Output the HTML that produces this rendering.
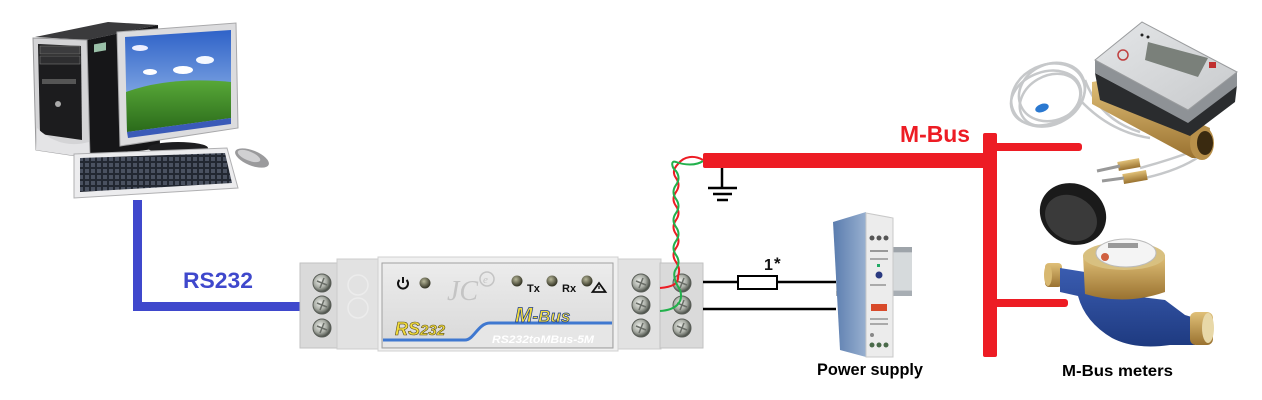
<!DOCTYPE html>
<html><head><meta charset="utf-8"><style>
html,body{margin:0;padding:0;background:#fff;}
svg{display:block;}
</style></head><body>
<svg width="1262" height="400" viewBox="0 0 1262 400" xmlns="http://www.w3.org/2000/svg" font-family="Liberation Sans, sans-serif">
<defs>
<radialGradient id="scr" cx="0.4" cy="0.4" r="0.6">
<stop offset="0" stop-color="#eef0ec"/><stop offset="0.6" stop-color="#a8aca4"/><stop offset="1" stop-color="#4a4f48"/>
</radialGradient>
<radialGradient id="led" cx="0.4" cy="0.35" r="0.6">
<stop offset="0" stop-color="#b8b89a"/><stop offset="1" stop-color="#3a3a2a"/>
</radialGradient>
<linearGradient id="face" x1="0" y1="0" x2="0" y2="1">
<stop offset="0" stop-color="#ececec"/><stop offset="1" stop-color="#d8d8d8"/>
</linearGradient>
<linearGradient id="sky" x1="0" y1="0" x2="0" y2="1">
<stop offset="0" stop-color="#2f62c8"/><stop offset="1" stop-color="#a8c8f0"/>
</linearGradient>
<linearGradient id="grass" x1="0" y1="0" x2="0" y2="1">
<stop offset="0" stop-color="#58a838"/><stop offset="1" stop-color="#2a6a1a"/>
</linearGradient>
<linearGradient id="brass" x1="0" y1="0" x2="0" y2="1">
<stop offset="0" stop-color="#e0c078"/><stop offset="1" stop-color="#9a7230"/>
</linearGradient>
<linearGradient id="psublue" x1="0" y1="0" x2="1" y2="0">
<stop offset="0" stop-color="#5a7cae"/><stop offset="1" stop-color="#98b0d0"/>
</linearGradient>
<linearGradient id="wblue" x1="0" y1="0" x2="0" y2="1">
<stop offset="0" stop-color="#3a5cb0"/><stop offset="1" stop-color="#1e3a80"/>
</linearGradient>
<linearGradient id="hface" x1="0" y1="0" x2="1" y2="1">
<stop offset="0" stop-color="#e4e6e8"/><stop offset="1" stop-color="#c8cacc"/>
</linearGradient>
<pattern id="keys" width="6" height="6" patternUnits="userSpaceOnUse">
<rect width="6" height="6" fill="#222731"/><rect x="1" y="1" width="4" height="4" fill="#4a5160"/>
</pattern>
<g id="screw">
<circle r="9" fill="url(#scr)" stroke="#5a5e58" stroke-width="1"/>
<path d="M-5,-2 L5,2 M-2,5 L2,-5" stroke="#6a6e68" stroke-width="1.5"/>
</g>
</defs>

<!-- ===== Computer ===== -->
<polygon points="35,37 108,22 158,25 87,40" fill="#3a3a3c"/>
<polygon points="87,40 158,25 160,148 90,158" fill="#161618"/>
<rect x="94" y="44" width="12" height="8" fill="#9ac0a8" transform="skewY(-10) translate(0,17)"/>
<polygon points="33,38 87,40 90,158 36,150" fill="#d4d4d6" stroke="#9a9a9c" stroke-width="1"/>
<polygon points="38,44 81,46 82,140 40,134" fill="#1c1c1e"/>
<rect x="40" y="46" width="40" height="8" fill="#3c3c3e" stroke="#777" stroke-width="0.6"/>
<rect x="40" y="56" width="40" height="8" fill="#2e2e30" stroke="#777" stroke-width="0.6"/>
<rect x="42" y="79" width="34" height="5" fill="#555"/>
<circle cx="58" cy="104" r="3" fill="#aaa"/>
<path d="M37,128 Q60,150 89,142 L90,158 L36,150 Z" fill="#e4e4e6"/>
<polygon points="117,32 236,23 238,128 120,146" fill="#dcdcde" stroke="#a8a8aa" stroke-width="1"/>
<polygon points="125,37 231,30 231,118 127,132" fill="url(#sky)"/>
<path d="M126,92 Q170,76 231,82 L231,118 L127,132 Z" fill="url(#grass)"/>
<ellipse cx="140" cy="48" rx="8" ry="3" fill="#eef"/>
<ellipse cx="183" cy="70" rx="10" ry="4" fill="#fff"/>
<ellipse cx="205" cy="60" rx="9" ry="4" fill="#f4f8ff"/>
<ellipse cx="150" cy="72" rx="7" ry="3" fill="#fff"/>
<polygon points="127,132 231,118 231,124 128,138" fill="#3a5ab8"/>
<ellipse cx="178" cy="148" rx="30" ry="6" fill="#1e1e20"/>
<polygon points="74,154 227,148 238,188 74,198" fill="#ececee" stroke="#b0b0b2" stroke-width="1"/>
<polygon points="80,158 225,153 232,183 80,192" fill="url(#keys)"/>
<ellipse cx="252" cy="158" rx="18" ry="7.5" fill="#9a9a9c" transform="rotate(22 252 158)"/>
<ellipse cx="249" cy="156" rx="12" ry="4.5" fill="#d0d0d2" transform="rotate(22 249 156)"/>

<!-- RS232 line -->
<path d="M137.5,200 L137.5,306.5 L300,306.5" fill="none" stroke="#3f48cc" stroke-width="9"/>
<text x="183" y="288" font-size="22" font-weight="bold" fill="#3f48cc" textLength="70" lengthAdjust="spacingAndGlyphs">RS232</text>

<!-- ===== Converter module ===== -->
<rect x="300" y="263" width="38" height="85" fill="#dadada" stroke="#c2c2c2"/>
<rect x="337" y="259" width="43" height="90" fill="#e2e2e2" stroke="#cccccc"/>
<circle cx="358" cy="285" r="10" fill="none" stroke="#ececec" stroke-width="1.5"/>
<circle cx="358" cy="308" r="10" fill="none" stroke="#ececec" stroke-width="1.5"/>
<rect x="618" y="259" width="43" height="90" fill="#e2e2e2" stroke="#cccccc"/>
<rect x="660" y="263" width="43" height="85" fill="#dadada" stroke="#c2c2c2"/>
<rect x="378" y="257" width="240" height="94" fill="#f0f0f0" stroke="#d0d0d0"/>
<rect x="382" y="263" width="231" height="85" fill="url(#face)" stroke="#a0a0a0" stroke-width="1"/>
<path d="M383,340 L465,340 C474,340 478,323 490,323 L612,323 L612,347 L383,347 Z" fill="#e6e6e6"/>
<path d="M383,340 L465,340 C474,340 478,323 490,323 L612,323" fill="none" stroke="#3f78d0" stroke-width="3"/>
<use href="#screw" x="322" y="283"/><use href="#screw" x="322" y="305"/><use href="#screw" x="322" y="328"/>
<use href="#screw" x="641" y="283"/><use href="#screw" x="641" y="305"/><use href="#screw" x="641" y="328"/>
<use href="#screw" x="682" y="283"/><use href="#screw" x="682" y="305"/><use href="#screw" x="682" y="328"/>
<path d="M399.5,280 A5,5 0 1 0 406.5,280" fill="none" stroke="#111" stroke-width="2"/>
<line x1="403" y1="277" x2="403" y2="283" stroke="#111" stroke-width="2"/>
<circle cx="425" cy="283" r="5.5" fill="url(#led)"/>
<text x="447" y="300" font-family="Liberation Serif, serif" font-style="italic" font-size="28" fill="#c4c4c4">JC</text>
<circle cx="487" cy="279" r="7" fill="none" stroke="#c4c4c4" stroke-width="1.5"/>
<text x="483" y="283" font-family="Liberation Serif, serif" font-style="italic" font-size="11" fill="#c4c4c4">e</text>
<circle cx="517" cy="281" r="5.5" fill="url(#led)"/>
<text x="527" y="292" font-size="11" font-weight="bold" fill="#111">Tx</text>
<circle cx="552" cy="281" r="5.5" fill="url(#led)"/>
<text x="562" y="292" font-size="11" font-weight="bold" fill="#111">Rx</text>
<circle cx="587" cy="281" r="5.5" fill="url(#led)"/>
<polygon points="599,283 605.5,292 592.5,292" fill="none" stroke="#111" stroke-width="1.8"/>
<line x1="599" y1="286" x2="599" y2="289" stroke="#111" stroke-width="1.3"/>
<text x="395" y="335" font-size="18" font-weight="bold" font-style="italic" fill="#f2dc3c" stroke="#5a5020" stroke-width="0.6">RS<tspan font-size="15">232</tspan></text>
<text x="515" y="322" font-size="21" font-weight="bold" font-style="italic" fill="#f2dc3c" stroke="#1e3c8c" stroke-width="0.7">M<tspan font-size="17">-Bus</tspan></text>
<text x="492" y="343" font-size="11" font-weight="bold" font-style="italic" fill="#ffffff" textLength="102" lengthAdjust="spacingAndGlyphs">RS232toMBus-5M</text>

<!-- twisted pair -->
<path d="M703,160 C694,155 684,156 678,164 Q671,171 676,178 T676,192 T676,206 T676,220 T676,234 T676,248 T676,262 T678,276 C679,284 672,287 660,288" fill="none" stroke="#ed1c24" stroke-width="2"/>
<path d="M703,161 C696,166 684,165 676,162 C670,160 672,168 676,171 Q681,178 676,185 T676,199 T676,213 T676,227 T676,241 T676,255 T676,269 T680,290 C684,302 676,310 660,311" fill="none" stroke="#22b14c" stroke-width="2"/>

<!-- ===== M-Bus bus ===== -->
<rect x="703" y="153" width="285" height="15" rx="2" fill="#ed1c24"/>
<rect x="983" y="133" width="14" height="224" rx="2" fill="#ed1c24"/>
<rect x="990" y="143" width="92" height="8" rx="3" fill="#ed1c24"/>
<rect x="990" y="299" width="78" height="8" rx="3" fill="#ed1c24"/>
<text x="900" y="142" font-size="23" font-weight="bold" fill="#ed1c24" textLength="70" lengthAdjust="spacingAndGlyphs">M-Bus</text>

<!-- ground -->
<line x1="722" y1="168" x2="722" y2="188" stroke="#000" stroke-width="2.5"/>
<line x1="708" y1="188" x2="737" y2="188" stroke="#000" stroke-width="2.5"/>
<line x1="713" y1="194" x2="732" y2="194" stroke="#000" stroke-width="2.5"/>
<line x1="717" y1="200" x2="728" y2="200" stroke="#000" stroke-width="2.5"/>

<!-- power wires + fuse -->
<line x1="703" y1="282" x2="836" y2="282" stroke="#000" stroke-width="2.5"/>
<line x1="703" y1="309" x2="836" y2="309" stroke="#000" stroke-width="2.5"/>
<rect x="738" y="276" width="39" height="13" fill="#fff" stroke="#000" stroke-width="2"/>
<text x="764" y="270" font-size="16" font-weight="bold" fill="#111">1</text>
<text x="774" y="269" font-size="17" font-weight="bold" fill="#111">*</text>

<!-- ===== Power supply ===== -->
<rect x="836" y="247" width="76" height="49" fill="#c4c8cc"/>
<rect x="836" y="247" width="76" height="5" fill="#9ea4aa"/>
<rect x="836" y="291" width="76" height="5" fill="#a8aeb4"/>
<rect x="893" y="253" width="19" height="37" fill="#d6dadc"/>
<polygon points="833,222 866,212 866,357 840,350" fill="url(#psublue)"/>
<polygon points="866,213 893,218 893,357 866,357" fill="#ececec" stroke="#c8c8c8" stroke-width="1"/>
<circle cx="872" cy="238" r="2.5" fill="#555"/><circle cx="879" cy="238" r="2.5" fill="#555"/><circle cx="886" cy="238" r="2.5" fill="#555"/>
<rect x="870" y="250" width="18" height="2" fill="#999"/>
<rect x="870" y="258" width="18" height="2" fill="#aaa"/>
<rect x="877" y="264" width="3" height="3" fill="#2a6"/>
<circle cx="879" cy="275" r="3.5" fill="#2a3a80"/>
<rect x="870" y="284" width="16" height="2" fill="#aaa"/>
<rect x="871" y="304" width="16" height="7" fill="#d84a2a"/>
<rect x="870" y="318" width="18" height="2" fill="#aaa"/>
<rect x="870" y="323" width="18" height="2" fill="#aaa"/>
<circle cx="872" cy="335" r="2" fill="#888"/>
<circle cx="872" cy="345" r="2.5" fill="#4a6a4a"/><circle cx="879" cy="345" r="2.5" fill="#4a6a4a"/><circle cx="886" cy="345" r="2.5" fill="#4a6a4a"/>
<text x="817" y="375" font-size="17" font-weight="bold" fill="#000" textLength="106" lengthAdjust="spacingAndGlyphs">Power supply</text>

<!-- ===== Heat meter ===== -->
<g fill="none" stroke="#c6c8ca" stroke-width="2.5">
<ellipse cx="1048" cy="95" rx="38" ry="30" transform="rotate(-25 1048 95)"/>
<ellipse cx="1052" cy="92" rx="34" ry="28" transform="rotate(-25 1052 92)"/>
<ellipse cx="1046" cy="98" rx="36" ry="26" transform="rotate(-20 1046 98)"/>
<ellipse cx="1050" cy="100" rx="32" ry="24" transform="rotate(-30 1050 100)"/>
<path d="M1085,80 Q1100,120 1140,132 M1080,100 Q1110,132 1150,138 M1140,168 Q1170,160 1196,150 M1145,178 Q1180,170 1200,156"/>
</g>
<ellipse cx="1042" cy="108" rx="7" ry="4" fill="#2a78d0" transform="rotate(-20 1042 108)"/>
<polygon points="1092,82 1104,80 1210,128 1207,158 1192,158 1092,104" fill="url(#brass)"/>
<ellipse cx="1202" cy="143" rx="12" ry="17" fill="#b8904a"/>
<ellipse cx="1205" cy="143" rx="8" ry="12" fill="#3a2a10"/>
<polygon points="1095,73 1188,122 1237,85 1235,102 1190,136 1100,100" fill="#2a2c2e"/>
<polygon points="1095,60 1188,110 1237,72 1237,86 1188,123 1095,73" fill="#8e9296"/>
<polygon points="1095,60 1142,22 1237,72 1188,110" fill="url(#hface)" stroke="#9a9c9e" stroke-width="1"/>
<polygon points="1148,42 1208,58 1198,77 1145,60" fill="#7a807a"/>
<circle cx="1123" cy="55" r="5" fill="none" stroke="#c04040" stroke-width="1.5"/>
<rect x="1209" y="62" width="7" height="6" fill="#c03030"/>
<circle cx="1142" cy="35" r="1.5" fill="#222"/><circle cx="1148" cy="37" r="1.5" fill="#222"/>
<rect x="1118" y="160" width="22" height="9" fill="url(#brass)" transform="rotate(-10 1129 165)"/>
<rect x="1123" y="172" width="24" height="10" fill="url(#brass)" transform="rotate(-10 1135 177)"/>
<line x1="1097" y1="171" x2="1120" y2="166" stroke="#999" stroke-width="3"/>
<line x1="1102" y1="181" x2="1124" y2="178" stroke="#999" stroke-width="3"/>

<!-- ===== Water meter ===== -->
<ellipse cx="1073" cy="214" rx="34" ry="30" fill="#1a1a1a" transform="rotate(28 1073 214)"/>
<ellipse cx="1071" cy="218" rx="27" ry="22" fill="#3a3a3a" transform="rotate(28 1071 218)"/>
<rect x="1045" y="263" width="17" height="24" rx="4" fill="url(#brass)"/>
<ellipse cx="1048" cy="275" rx="4" ry="11" fill="#d8b870"/>
<path d="M1060,268 L1085,272 L1085,290 L1165,300 L1185,315 L1195,318 L1195,345 L1170,345 Q1135,350 1112,338 Q1085,322 1078,296 L1060,292 Z" fill="url(#wblue)"/>
<rect x="1190" y="312" width="23" height="33" rx="6" fill="url(#brass)"/>
<ellipse cx="1208" cy="328" rx="6" ry="15" fill="#e8d8a8"/>
<path d="M1083,255 L1165,255 L1165,292 Q1125,306 1085,294 Z" fill="url(#brass)"/>
<ellipse cx="1124" cy="256" rx="41" ry="14" fill="#d8c080"/>
<ellipse cx="1126" cy="253" rx="30" ry="14" fill="#f4f4f4" stroke="#bbb"/>
<rect x="1108" y="243" width="30" height="5" fill="#999"/>
<circle cx="1105" cy="257" r="4" fill="#d06040"/>
<text x="1062" y="376" font-size="16" font-weight="bold" fill="#000" textLength="111" lengthAdjust="spacingAndGlyphs">M-Bus meters</text>
</svg>
</body></html>
